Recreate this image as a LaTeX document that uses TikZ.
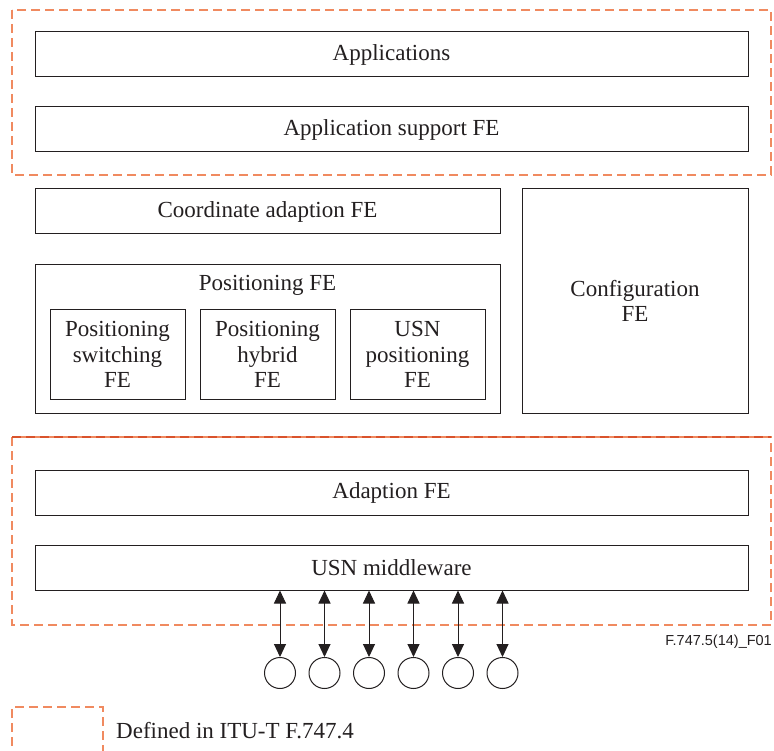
\documentclass[tikz,border=0pt]{standalone}
\usepackage{fontspec}
\setmainfont{Liberation Serif}
\newfontfamily\idfont{Liberation Sans}
\usetikzlibrary{arrows.meta,positioning}
\definecolor{itured}{HTML}{F08A60}
\definecolor{itudeep}{HTML}{D9532C}
\definecolor{itudark}{HTML}{231F20}
\tikzstyle{fe}=[draw=itudark, line width=1pt, text=itudark, align=center, inner sep=0pt, font=\fontsize{23}{25.5}\selectfont]
\tikzstyle{wide}=[fe, minimum width=713pt, minimum height=45pt]
\tikzstyle{subfe}=[fe, minimum width=135pt, minimum height=89pt]
\tikzstyle{region}=[draw=itured, line width=1.4pt, dash pattern=on 9pt off 5pt]
\tikzstyle{link}=[draw=itudark, line width=1pt, {Triangle[length=13pt,width=12pt]}-{Triangle[length=13pt,width=12pt]}]
\tikzstyle{sensor}=[circle, draw=itudark, line width=1pt, minimum size=31pt, inner sep=0pt]
\begin{document}
\begin{tikzpicture}[x=1pt,y=-1pt]
	\useasboundingbox (0,0) rectangle (774,751);
	
	% Regions defined elsewhere
	\draw[region] (12,10) rectangle (771,175);
	\draw[region] (12,437) rectangle (771,625);
	\draw[region, draw=itudeep] (12,437) -- (771,437);
	
	% Full width blocks
	\foreach \pos/\name/\txt in {{(391.5,54.5)/app/Applications}, {(391.5,129.5)/appsup/Application support FE}, {(391.5,492.5)/adapt/Adaption FE}, {(391.5,567.5)/mw/USN middleware}}
	\node[wide] (\name) at \pos {\txt};
	
	% Positioning blocks
	\node[fe, minimum width=465pt, minimum height=45pt] (coord) at (267.5,211.5) {Coordinate adaption FE};
	\node[fe, minimum width=465pt, minimum height=148pt] (pos) at (267.5,339) {};
	\node[fe, draw=none] (postitle) at (267.5,285) {Positioning FE};
	\foreach \pos/\name/\txt in {{(117.5,354.5)/switch/Positioning\\switching\\FE}, {(267.5,354.5)/hybrid/Positioning\\hybrid\\FE}, {(417.5,354.5)/usnpos/USN\\positioning\\FE}}
	\node[subfe] (\name) at \pos {\txt};
	\node[fe, minimum width=226pt, minimum height=224pt] (config) at (635,301) {Configuration\\FE};
	
	% Sensor nodes and links
	\foreach \i/\x in {1/280,2/324.5,3/369,4/413.5,5/458,6/502.5}
	{
		\node[sensor] (s\i) at (\x,673) {};
		\path[link] (mw.south -| s\i) -- (s\i.north);
	}
	
	\node[anchor=east, inner sep=0pt, text=itudark, font=\idfont\fontsize{14.5}{16}\selectfont] (figid) at (772,642) {F.747.5(14)\_F01};
	
	% Legend
	\draw[region] (12,760) |- (103,707) -- (103,760);
	\node[anchor=west, inner sep=0pt, text=itudark, font=\fontsize{23}{25.5}\selectfont] (legend) at (116,731) {Defined in ITU-T F.747.4};
	
\end{tikzpicture}
\end{document}
